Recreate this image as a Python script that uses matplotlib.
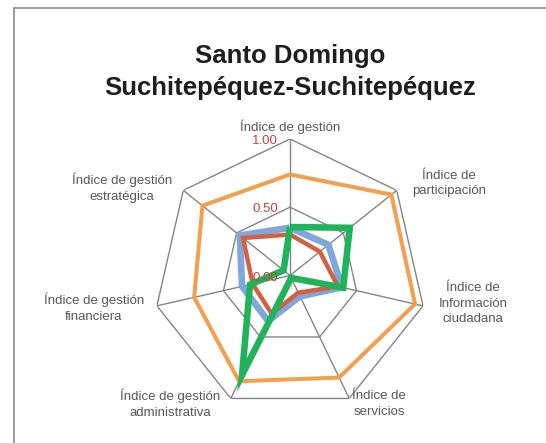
import numpy as np
import matplotlib
matplotlib.use("Agg")
import matplotlib.pyplot as plt
from matplotlib.patches import Rectangle

plt.rcParams['font.family'] = ['Liberation Sans', 'DejaVu Sans']

titulo = "Santo Domingo\nSuchitepéquez-Suchitepéquez"

categorias = ["Índice de gestión",
              "Índice de\nparticipación",
              "Índice de\nInformación\nciudadana",
              "Índice de\nservicios",
              "Índice de gestión\nadministrativa",
              "Índice de gestión\nfinanciera",
              "Índice de gestión\nestratégica"]

serie_azul = [0.35, 0.36, 0.39, 0.17, 0.37, 0.36, 0.47]
serie_roja = [0.30, 0.28, 0.36, 0.14, 0.31, 0.28, 0.44]
serie_naranja = [0.74, 0.95, 0.94, 0.83, 0.86, 0.72, 0.82]
serie_verde = [0.355, 0.56, 0.40, 0.02, 0.81, 0.30, 0.06]

anillos = [0.0, 0.5, 1.0]
etiquetas_anillos = ["0.00", "0.50", "1.00"]

# offsets (points) of each category label from its spoke end
offsets = [(0, 8.6), (37.7, 5), (35.9, 1.6), (21.5, -4),
           (-43.8, -4), (-45.3, -1.5), (-44.1, 2.1)]

n = len(categorias)
angulos = np.linspace(0, 2 * np.pi, n, endpoint=False)
ang_c = np.append(angulos, angulos[0])

fig = plt.figure(figsize=(5.46, 4.43), dpi=100)
ax = fig.add_axes([0.2811, 0.070, 0.5, 0.6163], projection='polar')
ax.set_theta_zero_location('N')
ax.set_theta_direction(-1)
ax.set_ylim(0, 1)
ax.grid(False)
ax.spines['polar'].set_visible(False)
ax.set_xticks([])
ax.set_yticks([])
ax.patch.set_alpha(0)

gris = '#858585'
for r in anillos[1:]:
    ax.plot(ang_c, [r] * (n + 1), color=gris, lw=1.0, zorder=1)
for a in angulos:
    ax.plot([a, a], [0, 1], color=gris, lw=1.0, zorder=1)

def serie(vals, color, lw, z):
    v = list(vals) + [vals[0]]
    ax.plot(ang_c, v, color=color, lw=lw, zorder=z,
            solid_joinstyle='miter', solid_capstyle='butt')

serie(serie_azul, '#7fa7dc', 4.8, 2)
serie(serie_roja, '#d5603f', 3.2, 3)
serie(serie_naranja, '#f2a04e', 2.9, 4)
serie(serie_verde, '#1fb35a', 4.7, 5)

for r, t in zip(anillos, etiquetas_anillos):
    ax.annotate(t, xy=(0, r), xytext=(-8.5, -1.5), textcoords='offset points',
                ha='right', va='center', fontsize=9.5, color='#c8463c',
                annotation_clip=False, zorder=6)

for a, t, off in zip(angulos, categorias, offsets):
    ax.annotate(t, xy=(a, 1.0), xytext=off, textcoords='offset points',
                ha='center', va='center', fontsize=9.5, color='#595959',
                linespacing=1.4, annotation_clip=False)

fig.text(0.5311, 1 - 94.5 / 443, titulo, ha='center', va='baseline',
         fontsize=18.5, fontweight='bold', color='#1e1e1e', linespacing=1.38)

fig.add_artist(Rectangle((13.5 / 546, -0.1), 1.2, 1.081, transform=fig.transFigure,
                         fill=False, edgecolor='#8c8c8c', lw=1.2))

fig.savefig('out.png', dpi=100)
